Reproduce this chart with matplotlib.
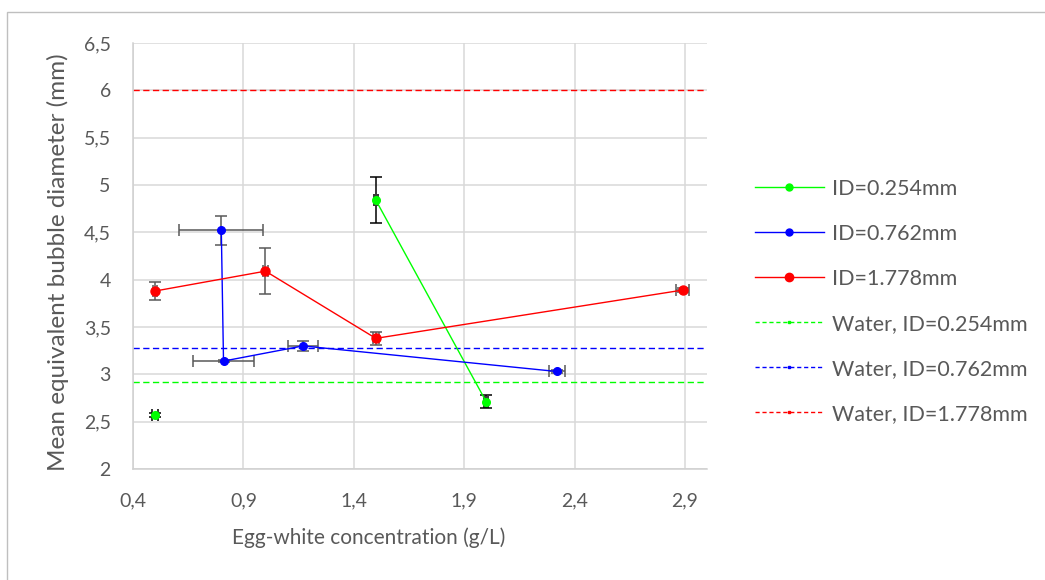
import matplotlib
matplotlib.use("Agg")
import matplotlib.pyplot as plt
from matplotlib.lines import Line2D
from matplotlib.patches import Rectangle
from matplotlib.ticker import FuncFormatter, MultipleLocator

plt.rcParams['font.family'] = ['Lato', 'DejaVu Sans']

# ---- data ----
green_x = [0.5, 1.5, 2.0]
green_y = [2.57, 4.84, 2.71]
green_xerr = [0.015, 0.01, 0.01]
green_yerr = [0.02, 0.24, 0.07]

blue_x = [0.80, 0.81, 1.17, 2.32]
blue_y = [4.52, 3.14, 3.30, 3.03]
blue_xerr = [0.19, 0.14, 0.07, 0.035]
blue_yerr = [0.15, 0.01, 0.05, 0.02]

red_x = [0.5, 1.0, 1.5, 2.89]
red_y = [3.88, 4.09, 3.38, 3.89]
red_xerr = [0.01, 0.01, 0.015, 0.03]
red_yerr = [0.10, 0.245, 0.07, 0.02]

water_y = {"Water, ID=0.254mm": 2.92, "Water, ID=0.762mm": 3.28, "Water, ID=1.778mm": 6.0}
labels = ["ID=0.254mm", "ID=0.762mm", "ID=1.778mm"]

GREEN, BLUE, RED = "#00FF00", "#0000FF", "#FF0000"
TXT = "#595959"

W, H = 1045, 580
fig = plt.figure(figsize=(W / 100, H / 100), dpi=100)
fig.patch.set_facecolor("white")
fig.patches.append(Rectangle((7 / W, 0 - 0.05), 1.1, (1 - 12 / H) + 0.05, transform=fig.transFigure,
                             fill=False, edgecolor="#bfbfbf", lw=1.0))

ax = fig.add_axes([133 / W, 1 - 469 / H, (707 - 133) / W, (469 - 43) / H])
ax.set_xlim(0.4, 3.0)
ax.set_ylim(2.0, 6.5)
ax.yaxis.set_major_locator(MultipleLocator(0.5))
ax.set_xticks([0.4, 0.9, 1.4, 1.9, 2.4, 2.9])

def fmt(v, pos):
    s = ("%.1f" % v).rstrip("0").rstrip(".")
    return s.replace(".", ",")

ax.xaxis.set_major_formatter(FuncFormatter(fmt))
ax.yaxis.set_major_formatter(FuncFormatter(fmt))
ax.grid(True, color="#d9d9d9", lw=1.1, zorder=0)
ax.set_axisbelow(True)
for s in ["top", "right"]:
    ax.spines[s].set_visible(False)
for s in ["left", "bottom"]:
    ax.spines[s].set_color("#d0d0d0")
    ax.spines[s].set_linewidth(1.1)
ax.tick_params(length=0, labelsize=14, labelcolor=TXT)
ax.tick_params(axis="x", pad=17)
ax.tick_params(axis="y", pad=16)

# water reference lines
for (lab, yv), c in zip(water_y.items(), [GREEN, BLUE, RED]):
    ax.axhline(yv, color=c, lw=1.0, ls=(0, (4.5, 2.5)), zorder=2)

# error bars
ax.errorbar(green_x, green_y, xerr=green_xerr, yerr=green_yerr, fmt="none",
            ecolor="black", elinewidth=1.1, capsize=4, capthick=1.1, zorder=3)
ax.errorbar(blue_x, blue_y, xerr=blue_xerr, yerr=blue_yerr, fmt="none",
            ecolor="#595959", elinewidth=1.1, capsize=4, capthick=1.1, zorder=3)
ax.errorbar(red_x, red_y, xerr=red_xerr, yerr=red_yerr, fmt="none",
            ecolor="#595959", elinewidth=1.1, capsize=4, capthick=1.1, zorder=3)

# series lines + markers
ax.plot(green_x[1:], green_y[1:], color=GREEN, lw=1.0, zorder=4)
ax.plot(green_x, green_y, ls="none", marker="o", ms=5.5, color=GREEN, zorder=5)
ax.plot(blue_x, blue_y, color=BLUE, lw=1.0, marker="o", ms=5.5, zorder=5)
ax.plot(red_x, red_y, color=RED, lw=1.0, marker="o", ms=6.5, zorder=5)

ax.set_xlabel("Egg-white concentration (g/L)", fontsize=15, color=TXT)
ax.set_ylabel("Mean equivalent bubble diameter (mm)", fontsize=17.5, color=TXT)
ax.xaxis.set_label_coords((369 - 133) / 574, (469 - 538) / 426)
ax.yaxis.set_label_coords((58 - 133) / 574, (469 - 262) / 426)
ax.xaxis.label.set_va("center")
ax.yaxis.label.set_va("center")

handles = [
    Line2D([0], [0], color=GREEN, lw=1.0, marker="o", ms=5),
    Line2D([0], [0], color=BLUE, lw=1.0, marker="o", ms=5),
    Line2D([0], [0], color=RED, lw=1.0, marker="o", ms=6),
    Line2D([0], [0], color=GREEN, lw=1.0, ls=(0, (3, 2)), marker="s", ms=2),
    Line2D([0], [0], color=BLUE, lw=1.0, ls=(0, (3, 2)), marker="s", ms=2),
    Line2D([0], [0], color=RED, lw=1.0, ls=(0, (3, 2)), marker="s", ms=2),
]
leg = fig.legend(handles, labels + list(water_y.keys()), loc="upper left",
                 bbox_to_anchor=(755 / W, 1 - 179 / H), frameon=False,
                 fontsize=15.5, handlelength=3.2, handletextpad=0.4,
                 labelspacing=1.16, numpoints=1, borderaxespad=0, borderpad=0)
for t in leg.get_texts():
    t.set_color(TXT)

fig.savefig("out.png", dpi=100, facecolor="white")
